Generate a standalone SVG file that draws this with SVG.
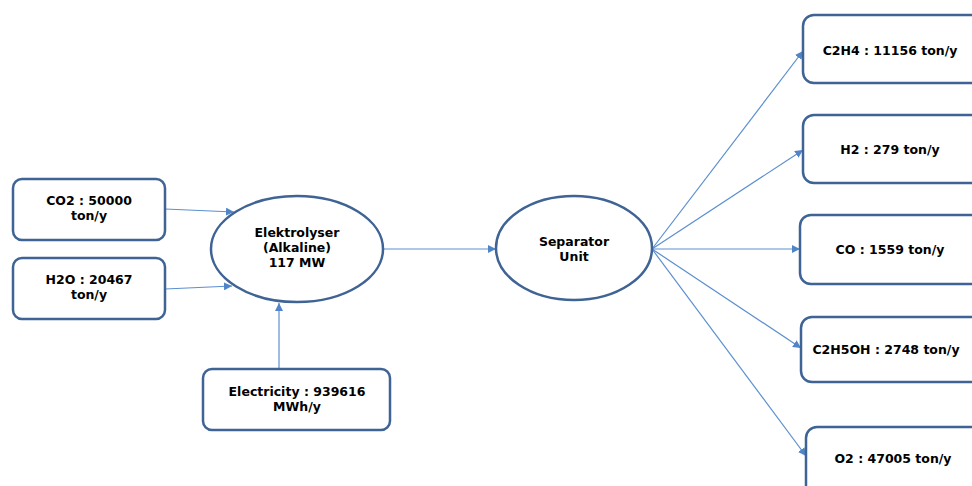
<svg xmlns="http://www.w3.org/2000/svg" width="972" height="486" viewBox="0 0 972 486">
<style>
.n{fill:#fff;stroke:#3e6394;stroke-width:2.5}
.t{font-family:"DejaVu Sans",Verdana,sans-serif;font-weight:bold;font-size:12.5px;fill:#000;text-anchor:middle}
.c{stroke:#5b8fd0;stroke-width:1.2;fill:none;marker-end:url(#a)}
</style>
<defs>
<marker id="a" viewBox="0 0 10 10" refX="10" refY="5" markerWidth="8" markerHeight="8" markerUnits="userSpaceOnUse" orient="auto">
<path d="M0,0L10,5L0,10z" fill="#4f84c8"/>
</marker>
</defs>
<rect width="972" height="486" fill="#fff"/>
<g id="connectors">
<line class="c" x1="165" y1="209" x2="234" y2="212"/>
<line class="c" x1="165" y1="289" x2="232" y2="286"/>
<line class="c" x1="279" y1="369" x2="279" y2="303"/>
<line class="c" x1="383" y1="249" x2="496" y2="249"/>
<line class="c" x1="652" y1="249" x2="803" y2="51"/>
<line class="c" x1="652" y1="249" x2="803" y2="150"/>
<line class="c" x1="652" y1="249" x2="800" y2="249"/>
<line class="c" x1="652" y1="249" x2="801" y2="348"/>
<line class="c" x1="652" y1="249" x2="806" y2="456"/>
</g>
<g id="co2">
<rect class="n" x="13" y="179" width="152" height="61" rx="9"/>
<text class="t" x="89" y="205">CO2 : 50000</text>
<text class="t" x="89" y="220">ton/y</text>
</g>
<g id="h2o">
<rect class="n" x="13" y="258" width="152" height="61" rx="9"/>
<text class="t" x="89" y="284">H2O : 20467</text>
<text class="t" x="89" y="299">ton/y</text>
</g>
<g id="electricity">
<rect class="n" x="203" y="369" width="187" height="61" rx="9"/>
<text class="t" x="297" y="396">Electricity : 939616</text>
<text class="t" x="297" y="411">MWh/y</text>
</g>
<g id="elektrolyser">
<ellipse class="n" cx="297" cy="249" rx="86" ry="53"/>
<text class="t" x="297" y="237">Elektrolyser</text>
<text class="t" x="297" y="252">(Alkaline)</text>
<text class="t" x="297" y="267">117 MW</text>
</g>
<g id="separator">
<ellipse class="n" cx="574" cy="248" rx="78" ry="52"/>
<text class="t" x="574" y="246">Separator</text>
<text class="t" x="574" y="261">Unit</text>
</g>
<g id="c2h4">
<rect class="n" x="803" y="15" width="180" height="68" rx="11"/>
<text class="t" x="890" y="55">C2H4 : 11156 ton/y</text>
</g>
<g id="h2">
<rect class="n" x="803" y="115" width="180" height="68" rx="11"/>
<text class="t" x="890" y="154">H2 : 279 ton/y</text>
</g>
<g id="co">
<rect class="n" x="800" y="215" width="183" height="69" rx="11"/>
<text class="t" x="890" y="254">CO : 1559 ton/y</text>
</g>
<g id="c2h5oh">
<rect class="n" x="801" y="317" width="182" height="65" rx="11"/>
<text class="t" x="886" y="354">C2H5OH : 2748 ton/y</text>
</g>
<g id="o2">
<rect class="n" x="806" y="427" width="177" height="70" rx="11"/>
<text class="t" x="893" y="463">O2 : 47005 ton/y</text>
</g>
</svg>
